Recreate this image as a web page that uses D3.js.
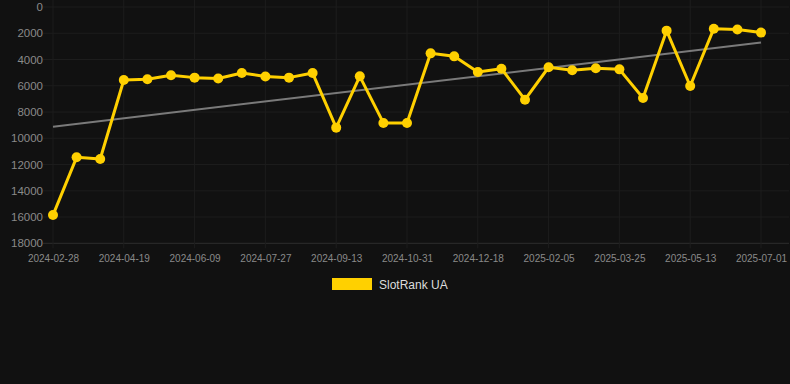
<!DOCTYPE html>
<head>
  <meta charset="utf-8">
  <script src="https://d3js.org/d3.v7.min.js"></script>
  <style>
    body { margin: 0; background: #111111; }
    svg { width: 790px; height: 384px; display: block; }
  </style>
</head>
<body>
  <svg></svg>
  <script>
    const width = 790;
    const height = 384;

    // dates of each rank snapshot
    const dates = [
      '2024-02-28', '2024-03-15', '2024-04-02', '2024-04-19', '2024-05-06', '2024-05-23',
      '2024-06-09', '2024-06-25', '2024-07-11', '2024-07-27', '2024-08-12', '2024-08-28',
      '2024-09-13', '2024-09-29', '2024-10-15', '2024-10-31', '2024-11-16', '2024-12-02',
      '2024-12-18', '2025-01-03', '2025-01-20', '2025-02-05', '2025-02-21', '2025-03-09',
      '2025-03-25', '2025-04-10', '2025-04-26', '2025-05-13', '2025-05-29', '2025-06-15',
      '2025-07-01'
    ];
    // SlotRank UA position
    const ranks = [
      15850, 11450, 11580, 5560, 5510, 5200, 5380, 5450, 5030, 5290, 5380, 5030,
      9190, 5280, 8830, 8830, 3530, 3760, 4950, 4700, 7060, 4590, 4820, 4670,
      4750, 6930, 1800, 6020, 1650, 1720, 1950
    ];
    // trend line, first and last value
    const trend = [9120, 2710];
    const yTicks = [0, 2000, 4000, 6000, 8000, 10000, 12000, 14000, 16000, 18000];
    const seriesName = 'SlotRank UA';

    const margin = { top: 7, right: 29, bottom: 141, left: 53 };
    const svg = d3.select('svg');

    const x = d3.scalePoint()
      .domain(dates)
      .range([margin.left, width - margin.right]);
    const y = d3.scaleLinear()
      .domain([0, 18000])
      .range([margin.top, height - margin.bottom + 0.3]);

    const xLabels = dates.filter((d, i) => i % 3 === 0);

    // grid
    svg.append('g')
      .selectAll('line.h')
      .data(yTicks)
      .join('line')
      .attr('x1', margin.left - 10)
      .attr('x2', width - 1)
      .attr('y1', d => y(d))
      .attr('y2', d => y(d))
      .attr('stroke', d => d === 18000 ? '#2e2e2e' : '#1d1d1d');
    svg.append('g')
      .selectAll('line.v')
      .data(xLabels)
      .join('line')
      .attr('x1', d => x(d))
      .attr('x2', d => x(d))
      .attr('y1', margin.top - 7)
      .attr('y2', y(18000) + 5)
      .attr('stroke', '#1d1d1d');

    // y axis labels
    const yAxis = svg.append('g')
      .attr('transform', `translate(${margin.left - 10},0)`)
      .call(d3.axisLeft(y).tickValues(yTicks).tickSize(0).tickPadding(0).tickFormat(d3.format('d')));
    yAxis.select('.domain').remove();
    yAxis.selectAll('text')
      .attr('fill', '#8a8a8a')
      .attr('font-family', 'Liberation Sans, Arial, sans-serif')
      .attr('font-size', 11.5);

    // x axis labels
    const xAxis = svg.append('g')
      .attr('transform', `translate(0,${y(18000) + 12})`)
      .call(d3.axisBottom(x).tickValues(xLabels).tickSize(0).tickPadding(0));
    xAxis.select('.domain').remove();
    xAxis.selectAll('text')
      .attr('fill', '#8a8a8a')
      .attr('font-family', 'Liberation Sans, Arial, sans-serif')
      .attr('font-size', 10);

    // trend line
    svg.append('line')
      .attr('x1', x(dates[0]))
      .attr('x2', x(dates[dates.length - 1]))
      .attr('y1', y(trend[0]))
      .attr('y2', y(trend[1]))
      .attr('stroke', '#7a7a7a')
      .attr('stroke-width', 2);

    // series line + dots
    const line = d3.line()
      .x((d, i) => x(dates[i]))
      .y(d => y(d));
    svg.append('path')
      .datum(ranks)
      .attr('d', line)
      .attr('fill', 'none')
      .attr('stroke', '#ffd000')
      .attr('stroke-width', 3)
      .attr('stroke-linejoin', 'round');
    svg.append('g')
      .selectAll('circle')
      .data(ranks)
      .join('circle')
      .attr('cx', (d, i) => x(dates[i]))
      .attr('cy', d => y(d))
      .attr('r', 5)
      .attr('fill', '#ffd000');

    // legend
    const legend = svg.append('g').attr('transform', 'translate(332,278)');
    legend.append('rect')
      .attr('width', 40)
      .attr('height', 12)
      .attr('fill', '#ffd000');
    legend.append('text')
      .attr('x', 47)
      .attr('y', 10.5)
      .attr('fill', '#dddddd')
      .attr('font-family', 'Liberation Sans, Arial, sans-serif')
      .attr('font-size', 12)
      .text(seriesName);
  </script>
</body>
